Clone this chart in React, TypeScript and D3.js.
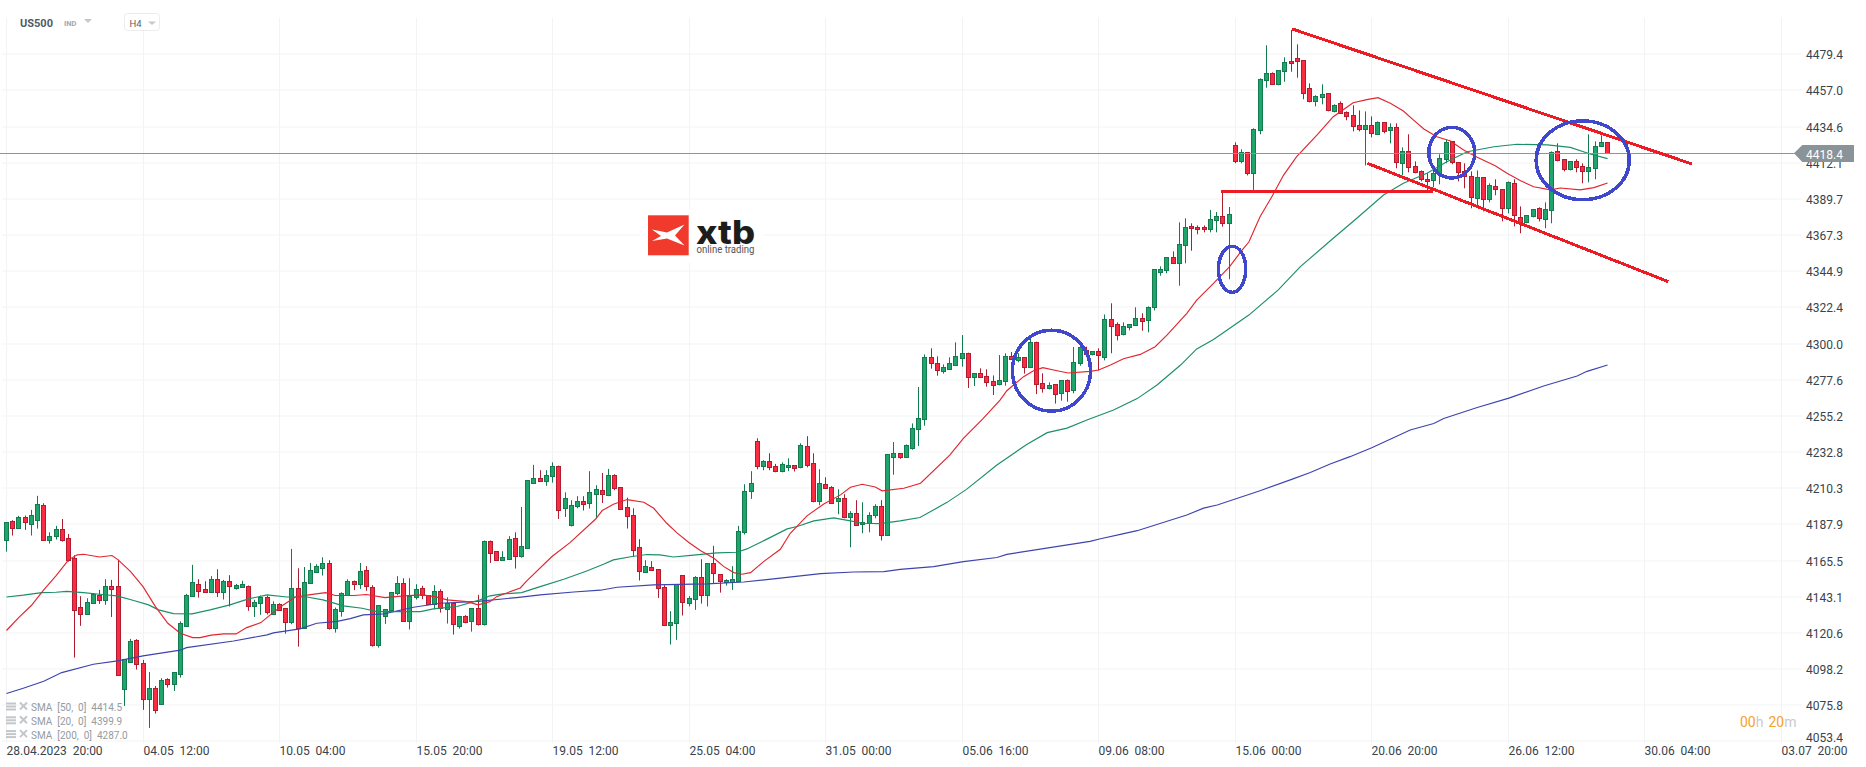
import React from "react";
import * as d3 from "d3";

const W = 1866;
const H = 767;

const priceTicks = [4479.4, 4457.0, 4434.6, 4412.1, 4389.7, 4367.3, 4344.9, 4322.4, 4300.0, 4277.6, 4255.2, 4232.8, 4210.3, 4187.9, 4165.5, 4143.1, 4120.6, 4098.2, 4075.8, 4053.4];
const timeTicks: [string, string][] = [["28.04.2023", "20:00"], ["04.05", "12:00"], ["10.05", "04:00"], ["15.05", "20:00"], ["19.05", "12:00"], ["25.05", "04:00"], ["31.05", "00:00"], ["05.06", "16:00"], ["09.06", "08:00"], ["15.06", "00:00"], ["20.06", "20:00"], ["26.06", "12:00"], ["30.06", "04:00"], ["03.07", "20:00"]];
const barsPerTick = 22;

const candleOpen = [4178.5,4190.1,4185.5,4192.5,4188.4,4190.5,4199.8,4178.5,4180.4,4184.9,4179.3,4167.1,4136.5,4132.6,4139.0,4144.0,4141.3,4149.8,4149.5,4086.1,4102.8,4116.3,4101.8,4079.9,4086.3,4076.4,4091.9,4089.2,4095.4,4125.2,
4143.4,4150.8,4147.7,4146.2,4153.9,4146.2,4152.7,4148.7,4149.3,4150.0,4137.6,4139.4,4142.7,4132.4,4138.4,4135.9,4127.6,4148.3,4123.5,4151.8,
4158.2,4161.1,4163.8,4123.9,4134.5,4144.0,4152.7,4150.8,4159.5,4148.9,4113.2,4131.4,4135.1,4145.2,4151.4,4128.3,4143.1,4148.5,4144.0,4138.8,
4146.4,4135.7,4139.0,4125.2,4131.0,4128.3,4135.9,4126.4,4177.5,4171.3,4166.1,4166.5,4179.3,4168.6,4173.5,4213.8,4216.5,4215.1,4217.6,4224.0,
4197.9,4187.8,4199.0,4202.3,4201.4,4207.0,4209.1,4206.4,4218.4,4210.9,4198.5,4193.6,4173.7,4158.2,4161.3,4160.1,4148.9,4125.8,4126.6,4156.4,
4139.0,4141.5,4155.1,4144.0,4163.8,4157.0,4152.0,4152.0,4152.7,4183.0,4208.5,4239.5,4224.0,4227.1,4224.0,4220.9,4223.3,4224.6,4223.3,4236.4,
4225.8,4202.1,4212.8,4210.9,4202.3,4204.1,4192.3,4194.8,4188.0,4188.6,4193.6,4199.2,4181.2,4229.9,4231.9,4229.9,4235.5,4246.8,4253.0,4291.5,
4287.8,4283.2,4284.5,4286.5,4290.9,4294.0,4279.1,4281.6,4279.7,4276.6,4274.7,4276.6,4292.1,4289.6,4291.5,4285.3,4300.8,4275.4,4272.3,4274.7,
4269.2,4277.2,4271.0,4287.8,4295.8,4293.3,4295.2,4291.5,4315.0,4311.9,4305.7,4310.1,4311.3,4315.7,4314.4,4322.5,4344.2,4345.5,4353.5,4349.8,
4360.9,4372.7,4372.1,4372.1,4370.9,4376.4,4378.9,4374.6,4423.0,4413.0,4418.6,4405.6,4432.2,4463.3,4467.6,4460.8,4468.8,4475.0,4476.9,4475.7,
4458.3,4450.2,4452.7,4455.2,4444.0,4449.0,4443.4,4441.6,4435.4,4432.9,4435.4,4429.8,4437.2,4432.2,4434.1,4411.8,4419.2,4409.9,4406.8,4401.9,
4401.2,4405.6,4414.3,4425.4,4412.4,4406.8,4403.7,4390.1,4403.1,4389.5,4397.5,4395.7,4383.9,4399.4,4378.3,4375.2,4378.9,4383.9,4377.1,4382.6,
4419.2,4414.3,4408.1,4413.0,4409.9,4406.8,4408.7,4422.3,4424.8];
const candleHigh = [4189.2,4190.5,4193.2,4193.4,4196.9,4205.6,4201.0,4183.0,4187.0,4191.3,4182.0,4168.8,4143.4,4142.1,4145.2,4147.3,4153.9,4153.5,4165.9,4104.3,4116.9,4116.7,4103.9,4096.4,4087.7,4092.5,4092.5,4096.2,4127.8,4144.8,
4162.8,4153.9,4152.7,4155.8,4160.1,4153.5,4156.4,4151.0,4152.9,4150.0,4141.1,4143.8,4143.6,4140.2,4139.0,4135.9,4172.7,4160.7,4161.5,4164.0,
4163.2,4167.5,4165.7,4136.3,4145.8,4153.9,4153.1,4164.0,4162.0,4150.2,4137.8,4135.3,4145.8,4155.8,4154.5,4154.5,4150.8,4149.8,4144.0,4150.2,
4147.7,4142.7,4139.4,4131.0,4131.6,4135.9,4144.2,4177.9,4177.9,4171.3,4171.3,4180.6,4183.0,4198.7,4215.3,4224.8,4221.5,4221.5,4226.4,4224.4,
4207.8,4202.9,4205.4,4205.4,4220.9,4212.2,4219.8,4222.3,4219.0,4210.9,4204.5,4197.9,4178.7,4165.7,4165.1,4160.1,4150.2,4134.1,4150.8,4156.4,
4143.4,4155.8,4166.3,4163.8,4174.6,4157.0,4153.9,4162.0,4187.0,4212.8,4220.9,4241.3,4227.7,4232.0,4225.4,4226.4,4228.9,4224.6,4238.2,4242.6,
4232.0,4222.1,4217.1,4211.6,4209.7,4206.6,4196.1,4202.9,4201.6,4195.4,4200.4,4202.9,4231.4,4239.0,4231.9,4237.5,4250.5,4273.1,4293.3,4297.1,
4292.1,4287.1,4291.5,4300.8,4305.3,4294.4,4281.6,4284.7,4284.1,4280.3,4292.9,4294.0,4294.8,4294.0,4291.5,4304.1,4301.2,4281.6,4276.0,4274.7,
4277.2,4277.8,4297.9,4299.3,4298.1,4295.2,4297.1,4318.1,4325.0,4313.2,4313.2,4311.9,4322.5,4318.8,4323.1,4346.1,4347.9,4353.5,4357.2,4375.2,
4377.7,4374.6,4373.3,4373.3,4382.9,4381.6,4394.0,4384.7,4424.8,4420.5,4418.6,4433.5,4464.5,4485.0,4468.2,4469.5,4477.5,4494.5,4485.6,4475.7,
4461.4,4454.0,4460.8,4455.2,4448.4,4450.2,4444.0,4447.8,4444.6,4444.0,4440.9,4437.8,4437.2,4436.6,4436.6,4421.7,4429.8,4413.0,4407.4,4405.6,
4409.9,4417.4,4426.7,4425.4,4412.4,4411.8,4406.8,4407.4,4403.1,4399.4,4401.9,4395.7,4400.6,4401.9,4385.1,4379.5,4383.3,4384.5,4387.6,4419.2,
4424.2,4414.3,4413.0,4414.3,4411.8,4429.8,4425.4,4429.2,4424.8];
const candleLow = [4171.0,4181.0,4185.5,4184.5,4181.0,4185.3,4178.5,4176.0,4178.5,4177.2,4164.8,4105.3,4125.0,4132.0,4139.0,4138.6,4138.0,4130.5,4094.8,4075.3,4102.8,4097.9,4072.9,4061.7,4070.6,4076.4,4086.7,4084.6,4092.9,4125.2,
4143.4,4142.5,4146.0,4146.2,4142.9,4141.3,4137.0,4147.5,4149.3,4134.3,4130.5,4131.8,4132.0,4132.0,4134.5,4120.2,4126.0,4112.1,4123.5,4151.2,
4158.2,4156.2,4122.7,4120.8,4130.7,4144.0,4147.1,4147.9,4146.7,4112.1,4111.5,4126.2,4135.1,4144.0,4128.3,4122.7,4141.3,4141.5,4138.8,4135.3,
4133.2,4126.4,4119.6,4123.3,4126.6,4121.4,4125.2,4125.2,4164.0,4166.1,4166.1,4166.1,4160.5,4167.3,4172.9,4213.2,4215.1,4211.8,4213.8,4191.3,
4192.5,4186.6,4197.9,4196.5,4197.7,4191.7,4201.2,4205.4,4209.1,4196.9,4185.3,4167.9,4153.1,4158.2,4159.5,4142.3,4125.4,4113.4,4116.3,4131.4,
4137.0,4134.9,4138.8,4137.0,4151.0,4145.6,4150.0,4147.3,4152.0,4181.6,4203.7,4222.1,4221.5,4221.5,4220.2,4220.2,4220.9,4220.7,4222.7,4223.3,
4201.6,4199.8,4210.3,4201.0,4194.2,4191.7,4173.7,4187.2,4182.4,4183.0,4191.7,4177.9,4181.2,4218.7,4228.6,4229.3,4234.2,4236.5,4249.1,4284.5,
4280.1,4281.4,4283.8,4286.3,4285.7,4272.5,4273.7,4279.1,4273.3,4268.1,4274.1,4273.9,4290.3,4288.4,4281.4,4285.3,4268.7,4269.6,4271.6,4262.8,
4264.6,4264.0,4269.2,4286.3,4291.5,4292.7,4283.4,4289.6,4294.0,4302.0,4305.1,4308.2,4311.3,4308.0,4307.0,4320.6,4342.1,4343.6,4349.8,4335.9,
4349.8,4357.6,4367.8,4369.0,4369.0,4369.0,4372.5,4339.9,4411.8,4411.8,4404.3,4395.3,4429.8,4458.7,4460.8,4460.2,4462.4,4468.6,4464.9,4451.5,
4449.6,4447.1,4448.4,4444.0,4443.4,4442.8,4438.5,4431.6,4431.6,4410.5,4427.9,4429.8,4430.4,4424.2,4408.7,4404.3,4406.2,4405.6,4400.6,4395.0,
4396.9,4398.8,4411.8,4411.2,4400.6,4396.3,4383.9,4385.8,4382.0,4387.6,4392.0,4375.8,4380.8,4372.7,4368.4,4374.6,4378.3,4375.8,4371.5,4374.6,
4413.0,4406.8,4407.4,4406.2,4399.4,4400.0,4401.9,4422.3,4418.0];
const candleClose = [4189.2,4185.5,4192.5,4189.2,4193.6,4200.4,4178.5,4180.8,4185.1,4178.5,4165.9,4135.1,4132.6,4139.6,4144.8,4141.3,4149.5,4148.1,4094.8,4104.3,4115.4,4101.2,4079.9,4086.3,4073.1,4091.3,4089.2,4096.2,4126.6,4144.0,
4152.0,4146.9,4146.0,4153.9,4145.8,4152.7,4150.0,4150.2,4150.8,4137.6,4140.0,4142.9,4133.6,4138.4,4135.1,4127.6,4148.3,4123.9,4152.0,4159.5,
4162.0,4163.8,4123.9,4135.3,4145.2,4152.7,4150.8,4158.9,4150.0,4113.2,4137.8,4135.3,4145.8,4151.4,4128.3,4143.4,4147.7,4144.0,4138.8,4146.4,
4135.9,4139.0,4126.4,4131.0,4127.6,4135.9,4126.4,4177.5,4170.0,4166.1,4167.5,4178.7,4168.6,4174.4,4215.3,4216.5,4215.1,4218.4,4224.0,4197.1,
4204.1,4199.8,4202.3,4200.8,4207.8,4209.7,4207.0,4218.4,4210.3,4197.3,4192.9,4172.3,4158.9,4162.0,4159.5,4148.3,4125.8,4127.2,4150.8,4139.6,
4142.1,4155.1,4144.0,4163.8,4157.6,4152.7,4153.3,4153.9,4183.7,4208.5,4213.4,4224.0,4227.1,4223.3,4220.9,4225.2,4224.6,4223.1,4237.0,4224.6,
4202.1,4213.4,4210.3,4201.4,4204.1,4192.3,4194.8,4187.4,4189.2,4193.6,4199.2,4181.2,4231.4,4231.9,4229.9,4236.9,4247.5,4253.7,4291.5,4288.2,
4283.8,4285.3,4287.8,4292.1,4294.0,4279.1,4281.6,4279.1,4276.0,4274.1,4277.2,4292.1,4290.3,4291.5,4285.3,4300.8,4274.7,4272.3,4274.1,4268.5,
4277.2,4270.4,4288.4,4297.7,4293.3,4295.2,4292.7,4315.0,4310.7,4305.1,4310.7,4311.9,4315.7,4313.8,4322.5,4346.1,4346.1,4353.5,4349.8,4361.6,
4372.1,4371.5,4370.9,4370.9,4377.1,4378.9,4374.6,4380.2,4413.0,4418.6,4405.6,4432.9,4463.9,4467.6,4460.8,4469.5,4474.4,4473.8,4475.0,4455.2,
4450.2,4453.3,4454.6,4444.6,4447.8,4442.8,4440.9,4434.7,4432.9,4435.4,4430.4,4437.2,4431.6,4434.1,4412.4,4419.2,4409.3,4406.2,4401.9,4400.6,
4405.6,4414.9,4424.8,4412.4,4406.2,4403.7,4390.7,4403.1,4389.5,4398.1,4395.7,4383.9,4400.0,4379.5,4374.6,4379.5,4383.3,4377.7,4383.3,4418.6,
4413.6,4408.1,4413.0,4409.3,4406.8,4409.3,4422.3,4424.8,4418.0];

const sma20Index = [0,2,4,6,8,10,11.4,12.4,15,17,18,20,22,24,26,28,30,31.2,33,35,37,38.7,41,42.5,44.4,46.5,48.7,51.4,53,56,58,61,64,67,69,71,74.2,76,77.9,79,82.8,83.8,87.9,90.8,94.9,96,97.8,100,102.7,104.3,106.4,108,109.9,111.8,114,115.6,117.2,118.5,119.9,122,124.7,126.3,129,131.7,134.4,136,137.9,140,141.1,144.6,147.3,152,154.2,157.4,160.1,161.2,163.9,165.5,167,169.3,171.1,174.6,176,177.9,180,182.7,185.1,187,190.2,191.8,194.5,197.1,199.1,200.2,202,203.9,205.8,207.9,211.2,213.8,217,219.2,221,223,225.1,226.7,228.4,230.5,232.7,234.8,237,239.9,241.8,244,246.1,248.8,250.4,253.6,255.8,258];
const sma20Value = [4122.1,4130.3,4137.6,4147.3,4156.2,4165.9,4169,4169.4,4167.7,4168.6,4165.9,4158.6,4149.3,4136.9,4126.6,4120.4,4117.7,4117.7,4119.2,4120,4120,4123.9,4127,4131.8,4137.4,4142.7,4144.2,4145.6,4143.8,4143.8,4144.4,4142.5,4143.6,4144.2,4143.1,4141.1,4140,4138,4140,4143.1,4148.5,4152.7,4168,4176.6,4191.1,4196.5,4200.4,4203.3,4201.6,4197.9,4188.6,4182.8,4176.8,4171.7,4166.9,4161.7,4158,4157,4158,4164.8,4172.5,4182.4,4193.2,4200.6,4206.2,4210.9,4212.8,4211.1,4208.7,4210.3,4213.4,4230.9,4241.3,4253.7,4265,4270.8,4279.5,4283.2,4285.1,4283.2,4281.8,4282.8,4283.6,4286.7,4290.6,4293.3,4298.1,4305.3,4318.8,4327,4337.4,4347.7,4358,4363,4378.7,4391.1,4404.5,4415.9,4429.4,4440.7,4449.4,4451.3,4452.5,4449,4444.2,4438.7,4433.1,4428.3,4425.6,4420,4415.5,4410.3,4405.6,4401,4397.3,4395.3,4396.5,4395.3,4396.7,4399.6];

const sma50Index = [0,2.7,5.7,8,9.7,12.4,15,17.8,20.5,22.9,24.5,26.9,29.9,32.8,36,39,42,45.2,48.4,51,54.3,57.3,59.7,63.5,66.7,68.8,72.6,76.3,77.9,80,83,86,89.8,93.5,96.2,97.8,100.8,103.2,105.3,107.5,110.7,114.5,117.7,119.3,122.3,125.8,127.4,130.1,133.3,136,137.9,140.8,144,147.2,151.5,154.7,159.6,164.4,167.7,170.9,174.1,178.4,182.2,185.4,189.2,191.8,194.5,200.2,204.9,208.5,213.8,217.6,221.9,225.1,228.9,232.1,235.4,239.7,243.4,248.3,252,255.2,258];
const sma50Value = [4142.9,4144,4145.6,4145.8,4146.4,4145.6,4144.6,4143.6,4140.7,4138,4134.9,4132.6,4132.4,4134.9,4138,4141.7,4144.2,4142.9,4142.9,4141.1,4137.4,4135.9,4133.8,4133.8,4133.8,4135.5,4137,4141.1,4143.6,4144.8,4145.6,4149.3,4153.9,4159,4163.2,4165.9,4168,4169.2,4169,4167.7,4168.8,4170.2,4170.6,4172.7,4178.3,4185.1,4186.6,4190.1,4191.9,4190.1,4188.6,4188.4,4190.1,4192.2,4201.4,4209.6,4224.7,4237.5,4244.8,4247.6,4252.6,4258.8,4265.9,4274.3,4286.7,4296.7,4302.6,4317.7,4333.2,4347.7,4365.3,4377.7,4392.1,4399.4,4405.6,4412.8,4419,4422.1,4423.6,4423.2,4421.7,4417.6,4414.7];

const sma200Index = [0,2.7,6,8.9,14,17.9,22,28,29,36.6,42,43,47.3,50,53.3,55.4,57.5,60.8,65.6,69.9,76,82.2,86,91.4,95.7,98.4,104.3,112.9,118.8,123.6,131.2,136.5,141.4,144,149.4,154.2,159.6,161.2,174.6,176.3,179.5,182.2,190.2,192.9,195.1,202,207.1,210.1,213.3,216.5,220,223.5,226.2,230,231.6,237,242.1,247.7,253.1,254.7,258];
const sma200Value = [4083,4086.3,4090.6,4096,4101.2,4103.3,4106.4,4109.9,4111.5,4115.6,4119.4,4120.6,4123.1,4126.6,4127.8,4129.5,4131.8,4132.4,4136.5,4139,4140.2,4142.5,4144.2,4146,4147.1,4148.9,4150.4,4151,4152.2,4154.1,4157.4,4158.4,4158.6,4160,4161.7,4164.8,4167.4,4169.3,4177.4,4179,4181.7,4184,4193.7,4198,4199.9,4208.8,4215.8,4220.1,4225.3,4229.9,4235.4,4241.6,4246.4,4250.5,4253.6,4260.4,4266.2,4273.7,4279.9,4282.8,4286.7];

const smaLegend = ["SMA  [50,  0]  4414.5", "SMA  [20,  0]  4399.9", "SMA  [200,  0]  4287.0"];

const lastPriceLabel = "4418.4";
const lastPriceLevel = 4418.0;

// hand-drawn annotations: [index, price]
const trendLines: [number, number, number, number][] = [
  [207.2, 4495.1, 271.6, 4411.4],
  [219.3, 4411.8, 267.8, 4338.4],
  [195.7, 4394.4, 229.9, 4394.4],
];
// [index, price, half width in bars, half height in price]
const circles: [number, number, number, number][] = [
  [168.4, 4283.2, 6.3, 25.1],
  [197.5, 4346.1, 2.2, 14.3],
  [232.9, 4418.4, 3.7, 15.7],
  [254, 4413.7, 7.5, 24.5],
];

const GREEN = "#1fa56b";
const GREEN_DK = "#137c4f";
const RED = "#fb2b42";
const RED_DK = "#b01c30";
const GRID = "#f2f3f4";
const TEXT = "#39434b";
const FONT = "Roboto, sans-serif";

const x = d3.scaleLinear().domain([0, barsPerTick * (timeTicks.length - 1)]).range([6.5, 1781.3]);
const y = d3.scaleLinear().domain([4053.4, 4479.4]).range([741.3, 54.3]);
const snap = (v: number) => Math.round(v) + 0.5;
const snapX = (v: number) => Math.floor(v) + 0.5;

function smaPath(idx: number[], val: number[]) {
  const line = d3.line<number>().x((_, i) => x(idx[i])).y((d) => y(d));
  return line(val) ?? "";
}

export default function App() {
  const smas: [number[], number[], string][] = [
    [sma200Index, sma200Value, "#3d44ad"],
    [sma50Index, sma50Value, "#1c8f69"],
    [sma20Index, sma20Value, "#e0262f"],
  ];
  return (
    <svg width={W} height={H} viewBox={`0 0 ${W} ${H}`} style={{ position: "fixed", left: 0, top: 0, background: "#fff", display: "block" }} fontFamily={FONT}>
      {/* grid */}
      {priceTicks.map((p) => (
        <line key={p} x1={2} x2={1802} y1={snap(y(p)) - 0.5} y2={snap(y(p)) - 0.5} stroke={GRID} strokeWidth={1} />
      ))}
      {timeTicks.map((t, i) => (
        <line key={t[0]} x1={snapX(x(i * barsPerTick))} x2={snapX(x(i * barsPerTick))} y1={18} y2={743} stroke={GRID} strokeWidth={1} />
      ))}

      {/* logo */}
      <g>
        <rect x={640} y={209} width={124} height={54} fill="#fff" />
        <rect x={648} y={215.3} width={40.7} height={40} fill="#ef3a2c" />
        <path d="M652,229.5 L667,232.5 L684.5,224.5 L675,235.5 L684.5,245.5 L667,238.5 L652,241 L661,236 Z" fill="#fff" />
        <text x={696} y={244} fontFamily="Inter, 'Liberation Sans', sans-serif" fontWeight={800} fontSize={32} fill="#1d1d1b" textLength={59} lengthAdjust="spacingAndGlyphs">xtb</text>
        <text x={696.5} y={253} fontFamily="Roboto, sans-serif" fontSize={10} fill="#555" textLength={58} lengthAdjust="spacingAndGlyphs">online trading</text>
      </g>

      {/* candles */}
      {candleOpen.map((o, i) => {
        const c = candleClose[i];
        const up = c >= o;
        const cx = snapX(x(i));
        const top = snap(y(Math.max(o, c)));
        const bot = snap(y(Math.min(o, c)));
        return (
          <g key={i}>
            <line x1={cx} x2={cx} y1={y(candleHigh[i])} y2={y(candleLow[i])} stroke={up ? GREEN_DK : RED_DK} strokeWidth={1} />
            <rect x={cx - 2} y={top} width={4} height={Math.max(1, bot - top)} fill={up ? GREEN : RED} stroke={up ? GREEN_DK : RED_DK} strokeWidth={1} />
          </g>
        );
      })}

      {/* moving averages */}
      {smas.map(([idx, val, col]) => (
        <path key={col} d={smaPath(idx, val)} fill="none" stroke={col} strokeWidth={1.15} />
      ))}

      {/* current price */}
      <line x1={0} x2={1795} y1={snap(y(lastPriceLevel))} y2={snap(y(lastPriceLevel))} stroke="#8c9599" strokeWidth={1} />

      {/* annotations */}
      {trendLines.map((l, i) => (
        <line key={i} x1={x(l[0])} y1={y(l[1])} x2={x(l[2])} y2={y(l[3])} stroke="#ed1c24" strokeWidth={3} shapeRendering="crispEdges" />
      ))}
      {circles.map((c, i) => {
        const u = x(1) - x(0);
        const v = Math.abs(y(0) - y(1));
        return <ellipse key={i} cx={x(c[0])} cy={y(c[1])} rx={c[2] * u} ry={c[3] * v} fill="none" stroke="#3f48cc" strokeWidth={3.5} shapeRendering="crispEdges" />;
      })}

      {/* price axis */}
      {priceTicks.map((p, i) => (
        <text key={p} x={1806} y={y(p) + (i === priceTicks.length - 1 ? 0.5 : 5)} fontSize={12} fill={TEXT}>{p.toFixed(1)}</text>
      ))}
      <polygon points={`1794,${y(lastPriceLevel)} 1802.3,145 1854,145 1854,162 1802.3,162`} fill="#8a9498" />
      <text x={1806} y={y(lastPriceLevel) + 5.5} fontSize={12} fill="#fff">{lastPriceLabel}</text>

      {/* time axis */}
      {timeTicks.map((t, i) => (
        <text key={t[0]} x={snapX(x(i * barsPerTick))} y={755} fontSize={12} fill={TEXT} style={{ whiteSpace: "pre" }}>{`${t[0]}  ${t[1]}`}</text>
      ))}

      {/* header */}
      <text x={20} y={27.3} fontSize={11} fontWeight={700} fill="#4e5c66">US500</text>
      <text x={64} y={26} fontSize={7.5} fontWeight={700} fill="#9aaab2">IND</text>
      <polygon points="84,19 92,19 88,23" fill="#c8c8c8" />
      <rect x={124.5} y={13.5} width={35} height={17} rx={3} fill="#fff" stroke="#ececec" />
      <text x={129.5} y={27.3} fontSize={9.5} fill="#5a5f63">H4</text>
      <polygon points="148,21.5 156,21.5 152,25" fill="#c8c8c8" />

      {/* indicator legend */}
      {smaLegend.map((s, i) => {
        const cy = 706.5 + i * 13.8;
        return (
          <g key={s}>
            <rect x={6} y={cy - 4} width={10} height={2} fill="#c4c7c9" />
            <rect x={6} y={cy - 1} width={10} height={2} fill="#c4c7c9" />
            <rect x={6} y={cy + 2} width={10} height={2} fill="#c4c7c9" />
            <path d={`M20,${cy - 4} L27,${cy + 3} M27,${cy - 4} L20,${cy + 3}`} stroke="#c4c7c9" strokeWidth={2} />
            <text x={31} y={cy + 4.8} fontSize={10} fill="#959ba0" style={{ whiteSpace: "pre" }}>{s}</text>
          </g>
        );
      })}

      {/* countdown */}
      <text x={1740} y={727} fontSize={14} fill="#f7a12e">
        00<tspan fill="#c9cbcd">h</tspan><tspan dx={5}>20</tspan><tspan fill="#c9cbcd">m</tspan>
      </text>
    </svg>
  );
}
